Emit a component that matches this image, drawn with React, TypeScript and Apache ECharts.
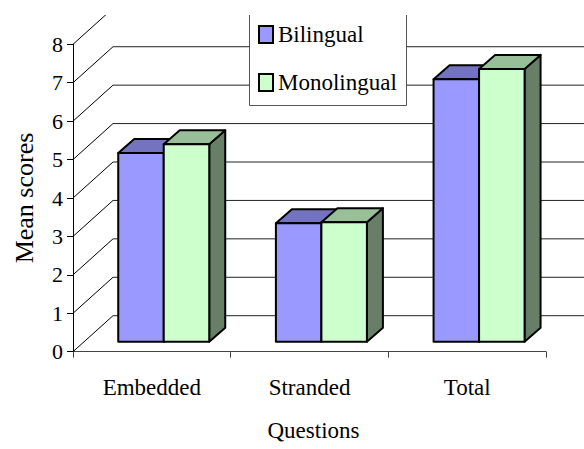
import React, { useEffect, useRef } from "react";
import * as echarts from "echarts";

const categories = ["Embedded", "Stranded", "Total"];
const bilingual = [4.91, 3.08, 6.83];
const monolingual = [5.14, 3.11, 7.1];
const yTicks = [0, 1, 2, 3, 4, 5, 6, 7, 8];
const seriesNames = ["Bilingual", "Monolingual"];

const FONT = "Liberation Serif";
const WALL_DX = 40;
const WALL_DY = -36;

const palettes = [
  { front: "#9999FF", top: "#7373BF", side: "#4D4D80" },
  { front: "#CCFFCC", top: "#99BF99", side: "#667F66" },
];

function makeBarRender(slot: number) {
  const pal = palettes[slot];
  return (params: any, api: any) => {
    const idx = api.value(0);
    const v = api.value(1);
    const base = api.coord([idx, 0]);
    const top = api.coord([idx, v]);
    const band = api.size([1, 0])[0];
    const w = band * 0.2886;
    const shiftX = band * 0.0755;
    const shiftY = -10;
    const x0 = base[0] + shiftX - w + slot * w;
    const yb = base[1] + shiftY;
    const yt = top[1] + shiftY;
    const dx = 16;
    const dy = -14;
    const stroke = { stroke: "#000", lineWidth: 2, lineJoin: "round" };
    return {
      type: "group",
      children: [
        {
          type: "polygon",
          shape: {
            points: [
              [x0 + w, yt],
              [x0 + w + dx, yt + dy],
              [x0 + w + dx, yb + dy],
              [x0 + w, yb],
            ],
          },
          style: { fill: pal.side, ...stroke },
        },
        {
          type: "polygon",
          shape: {
            points: [
              [x0, yt],
              [x0 + w, yt],
              [x0 + w + dx, yt + dy],
              [x0 + dx, yt + dy],
            ],
          },
          style: { fill: pal.top, ...stroke },
        },
        {
          type: "rect",
          shape: { x: x0, y: yt, width: w, height: yb - yt },
          style: { fill: pal.front, ...stroke },
        },
      ],
    };
  };
}

function wallRender(params: any, api: any) {
  const cs = params.coordSys;
  const y = api.coord([0, api.value(1)])[1];
  const x = cs.x;
  return {
    type: "group",
    children: [
      {
        type: "line",
        shape: { x1: x, y1: y, x2: x + WALL_DX, y2: y + WALL_DY },
        style: { stroke: "#000", lineWidth: 1 },
      },
      {
        type: "line",
        shape: {
          x1: x + WALL_DX,
          y1: y + WALL_DY,
          x2: x + cs.width + WALL_DX,
          y2: y + WALL_DY,
        },
        style: { stroke: "#222", lineWidth: 1 },
      },
    ],
  };
}

export default function App() {
  const ref = useRef<HTMLDivElement>(null);
  useEffect(() => {
    if (!ref.current) return;
    const chart = echarts.init(ref.current, undefined, { renderer: "svg" });
    const series: any[] = [
      {
        type: "custom",
        name: "wall",
        silent: true,
        z: 1,
        renderItem: wallRender,
        data: yTicks.map((t) => [0, t]),
        encode: { x: 0, y: 1 },
      },
      {
        type: "custom",
        name: seriesNames[0],
        silent: true,
        z: 2,
        itemStyle: { color: palettes[0].front },
        renderItem: makeBarRender(0),
        data: bilingual.map((v, i) => [i, v]),
        encode: { x: 0, y: 1 },
      },
      {
        type: "custom",
        name: seriesNames[1],
        silent: true,
        z: 2,
        itemStyle: { color: palettes[1].front },
        renderItem: makeBarRender(1),
        data: monolingual.map((v, i) => [i, v]),
        encode: { x: 0, y: 1 },
      },
    ];
    chart.setOption({
      animation: false,
      backgroundColor: "#fff",
      grid: { left: 73, top: 44.3, width: 473, height: 307.4 },
      xAxis: {
        type: "category",
        data: categories,
        boundaryGap: true,
        name: "Questions",
        nameLocation: "middle",
        nameGap: 67,
        nameTextStyle: { fontFamily: FONT, fontSize: 23, color: "#000", padding: [0, 0, 0, 8] },
        axisLine: { lineStyle: { color: "#444", width: 1 } },
        axisTick: { show: true, length: 6, lineStyle: { color: "#444" } },
        axisLabel: { fontFamily: FONT, fontSize: 23, color: "#000", margin: 24 },
        splitLine: { show: false },
      },
      yAxis: {
        type: "value",
        min: 0,
        max: 8,
        interval: 1,
        name: "Mean scores",
        nameLocation: "middle",
        nameRotate: 90,
        nameGap: 36,
        nameTextStyle: { fontFamily: FONT, fontSize: 26, color: "#000" },
        axisLine: { show: true, lineStyle: { color: "#000", width: 1 } },
        axisTick: { show: true, length: 6, lineStyle: { color: "#000" } },
        axisLabel: { fontFamily: FONT, fontSize: 22, color: "#000", margin: 10 },
        splitLine: { show: false },
      },
      legend: {
        data: seriesNames,
        orient: "vertical",
        left: 249,
        top: 15,
        padding: [8, 12, 12, 9],
        itemWidth: 14,
        itemHeight: 17,
        itemGap: 25,
        itemTextGap: 8,
        icon: "rect",
        itemStyle: { borderColor: "#000", borderWidth: 2 },
        textStyle: { fontFamily: FONT, fontSize: 23, color: "#000" },
        z: 5,
      },
      graphic: [
        {
          type: "rect",
          z: 3,
          silent: true,
          shape: { x: 249, y: 0, width: 158, height: 105 },
          style: { fill: "#fff" },
        },
        {
          type: "polyline",
          z: 3,
          silent: true,
          shape: {
            points: [
              [249.5, 15],
              [249.5, 105.5],
              [406.5, 105.5],
              [406.5, 15],
            ],
          },
          style: { stroke: "#555", lineWidth: 1, fill: "none" },
        },
        {
          type: "rect",
          z: 100,
          silent: true,
          shape: { x: 0, y: 0, width: 584, height: 15 },
          style: { fill: "#fff" },
        },
      ],
      series,
    });
    return () => chart.dispose();
  }, []);
  return (
    <div
      ref={ref}
      style={{ position: "absolute", left: 0, top: 0, width: 584, height: 449 }}
    />
  );
}
